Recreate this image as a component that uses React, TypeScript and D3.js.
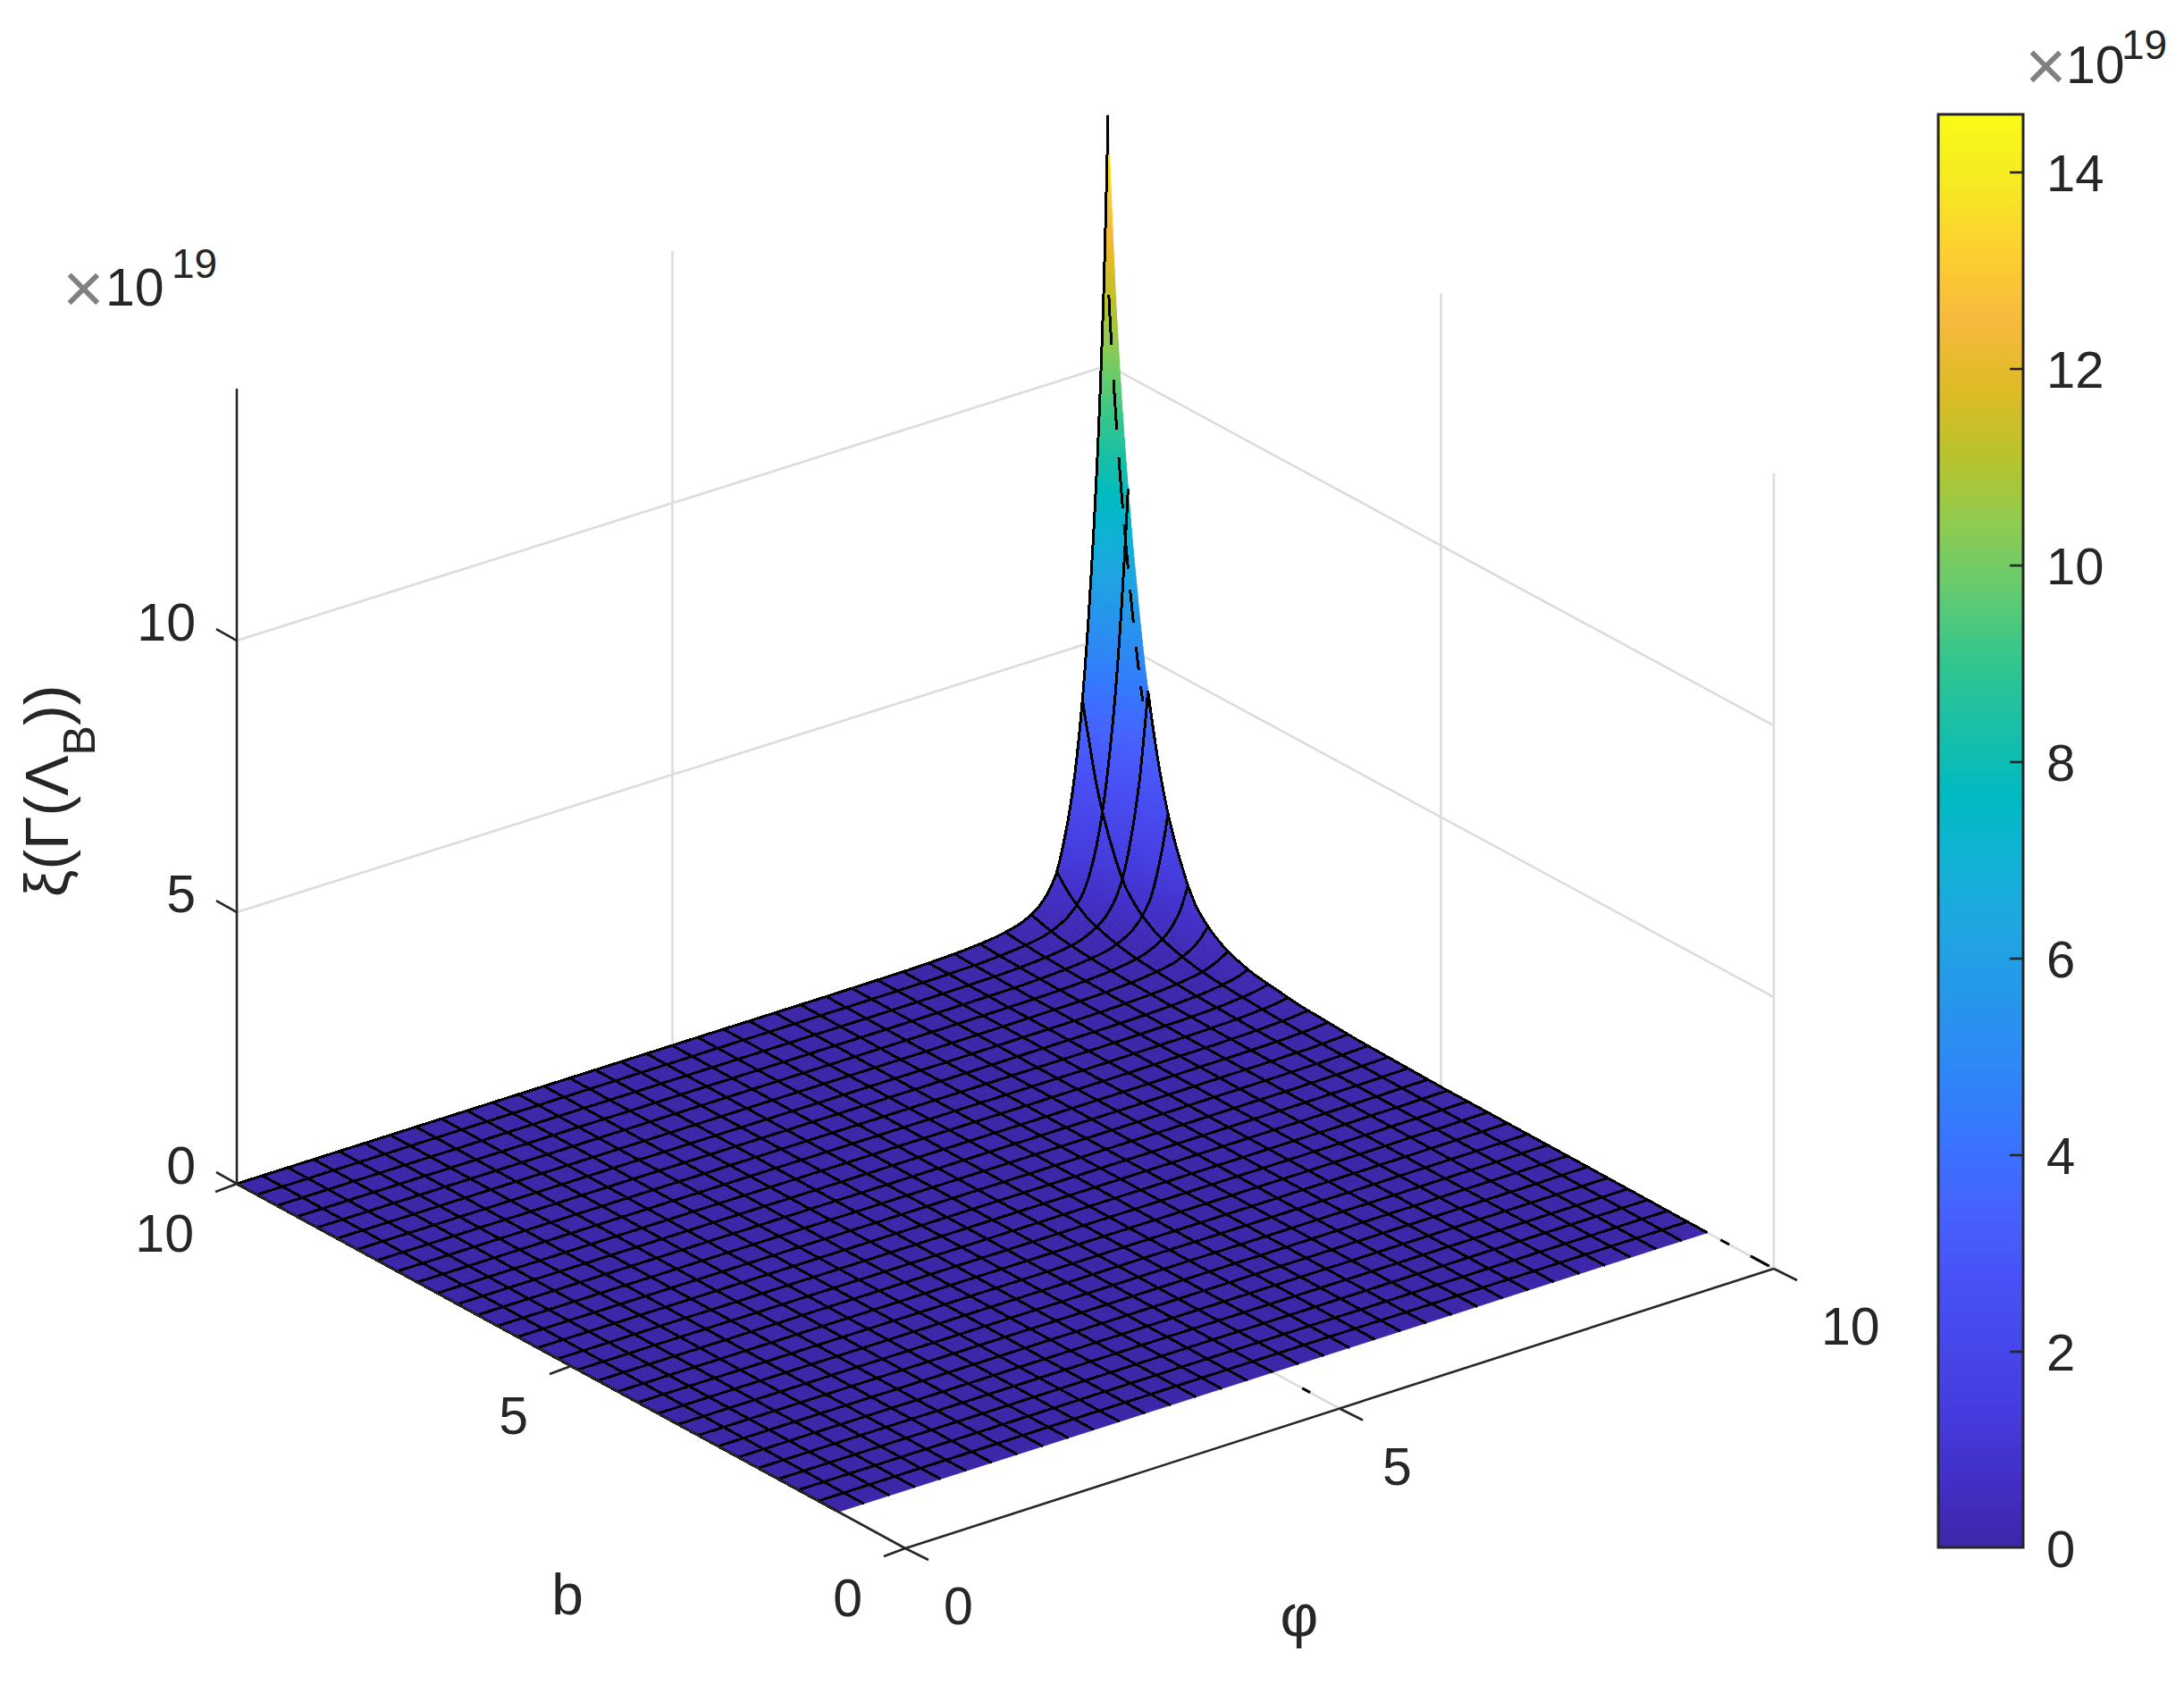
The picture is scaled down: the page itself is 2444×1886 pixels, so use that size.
import React from 'react';
import * as d3 from 'd3';

// surface heights (x 10^19), around the peak at phi = 10, b = 10
// rows: distance from phi = 10, columns: distance from b = 10
const phiKnots = [0, 0.05, 0.1, 0.15, 0.2, 0.3, 0.4, 0.5, 0.6, 0.7, 0.8, 0.9, 1, 1.3, 1.7, 2.3, 3.2, 10];
const bKnots = [0, 0.11, 0.22, 0.33, 0.44, 0.66, 0.88, 1.1, 1.32, 1.54, 1.76, 1.98, 2.2, 2.86, 3.74, 5.06, 7.04, 9];
const heights = [
  [14.6, 11.4, 9.2, 7.5, 6.1, 3.9, 2.45, 1.55, 0.92, 0.62, 0.43, 0.32, 0.24, 0.125, 0.065, 0.03, 0.02, 0],
  [11.4, 9.2, 7.5, 6.1, 4.9, 3.15, 1.95, 1.2, 0.76, 0.52, 0.37, 0.28, 0.21, 0.115, 0.06, 0.03, 0.02, 0],
  [9.2, 7.5, 6.1, 4.9, 3.9, 2.45, 1.55, 0.92, 0.62, 0.43, 0.32, 0.24, 0.18, 0.105, 0.055, 0.03, 0.02, 0],
  [7.5, 6.1, 4.9, 3.9, 3.15, 1.95, 1.2, 0.76, 0.52, 0.37, 0.28, 0.21, 0.165, 0.095, 0.05, 0.03, 0.02, 0],
  [6.1, 4.9, 3.9, 3.15, 2.45, 1.55, 0.92, 0.62, 0.43, 0.32, 0.24, 0.18, 0.15, 0.085, 0.05, 0.03, 0.02, 0],
  [3.9, 3.15, 2.45, 1.95, 1.55, 0.92, 0.62, 0.43, 0.32, 0.24, 0.18, 0.15, 0.125, 0.075, 0.04, 0.025, 0.015, 0],
  [2.45, 1.95, 1.55, 1.2, 0.92, 0.62, 0.43, 0.32, 0.24, 0.18, 0.15, 0.125, 0.105, 0.065, 0.035, 0.025, 0.015, 0],
  [1.55, 1.2, 0.92, 0.76, 0.62, 0.43, 0.32, 0.24, 0.18, 0.15, 0.125, 0.105, 0.085, 0.055, 0.03, 0.02, 0.015, 0],
  [0.92, 0.76, 0.62, 0.52, 0.43, 0.32, 0.24, 0.18, 0.15, 0.125, 0.105, 0.085, 0.075, 0.05, 0.03, 0.02, 0.01, 0],
  [0.62, 0.52, 0.43, 0.37, 0.32, 0.24, 0.18, 0.15, 0.125, 0.105, 0.085, 0.075, 0.065, 0.04, 0.03, 0.02, 0.01, 0],
  [0.43, 0.37, 0.32, 0.28, 0.24, 0.18, 0.15, 0.125, 0.105, 0.085, 0.075, 0.065, 0.055, 0.04, 0.025, 0.02, 0.01, 0],
  [0.32, 0.28, 0.24, 0.21, 0.18, 0.15, 0.125, 0.105, 0.085, 0.075, 0.065, 0.055, 0.05, 0.035, 0.025, 0.02, 0.01, 0],
  [0.24, 0.21, 0.18, 0.165, 0.15, 0.125, 0.105, 0.085, 0.075, 0.065, 0.055, 0.05, 0.04, 0.03, 0.02, 0.015, 0.01, 0],
  [0.125, 0.115, 0.105, 0.095, 0.085, 0.075, 0.065, 0.055, 0.05, 0.04, 0.04, 0.03, 0.03, 0.025, 0.02, 0.01, 0.01, 0],
  [0.065, 0.06, 0.055, 0.05, 0.05, 0.04, 0.035, 0.03, 0.03, 0.03, 0.025, 0.025, 0.02, 0.02, 0.015, 0.01, 0.005, 0],
  [0.03, 0.03, 0.03, 0.03, 0.03, 0.025, 0.025, 0.02, 0.02, 0.02, 0.02, 0.02, 0.015, 0.01, 0.01, 0.005, 0.005, 0],
  [0.02, 0.02, 0.02, 0.02, 0.02, 0.015, 0.015, 0.015, 0.01, 0.01, 0.01, 0.01, 0.01, 0.01, 0.005, 0.005, 0, 0],
  [0, 0, 0, 0, 0, 0, 0, 0, 0, 0, 0, 0, 0, 0, 0, 0, 0, 0],
];

const zMax = 14.64;
const colorbarMax = 14.6;
const phiTicks = [0, 5, 10];
const bTicks = [0, 5, 10];
const zTicks = [0, 5, 10];
const colorbarTicks = [0, 2, 4, 6, 8, 10, 12, 14];
const phiCells = 34;
const bCells = 30;
const bMin = 1;
// broken bits of the phi = 10 edge on the spike, in distance from b = 10
const edgeFragments = [[0.05, 0.09], [0.12, 0.17], [0.2, 0.26], [0.28, 0.34], [0.37, 0.42], [0.46, 0.5], [0.53, 0.56]];

// parula
const parula = [
  [62, 38, 168], [66, 47, 199], [69, 60, 222], [71, 71, 235], [71, 83, 247], [70, 99, 253], [56, 117, 255], [47, 135, 247],
  [39, 150, 235], [32, 165, 227], [18, 178, 214], [1, 186, 195], [25, 191, 167], [50, 198, 142], [99, 203, 113], [143, 203, 80],
  [185, 195, 43], [222, 187, 39], [248, 186, 61], [253, 208, 48], [246, 233, 35], [249, 251, 21],
];
const parulaDomain = d3.range(parula.length).map(i => (i / (parula.length - 1)) * colorbarMax);
const colorOf = d3.scaleLinear<string>()
  .domain(parulaDomain)
  .range(parula.map(c => `rgb(${c[0]},${c[1]},${c[2]})`))
  .interpolate(d3.interpolateRgb)
  .clamp(true);

// axes box corners on the page, at z = 0
const F = [1013, 1733];
const R = [1985, 1420];
const L = [265, 1325];
const B = [1240, 1017];
const boxHeight = 890;

const uScale = d3.scaleLinear().domain([0, 10]).range([0, 1]);
const zScale = d3.scaleLinear().domain([0, zMax]).range([0, boxHeight]);

function project(phi: number, b: number, z = 0): [number, number] {
  const u = uScale(phi);
  const v = uScale(b);
  const x = (1 - u) * (1 - v) * F[0] + u * (1 - v) * R[0] + (1 - u) * v * L[0] + u * v * B[0];
  const y = (1 - u) * (1 - v) * F[1] + u * (1 - v) * R[1] + (1 - u) * v * L[1] + u * v * B[1];
  return [x, y - zScale(z)];
}

const dIndex = d3.scaleLinear().domain(phiKnots).range(d3.range(phiKnots.length)).clamp(true);
const eIndex = d3.scaleLinear().domain(bKnots).range(d3.range(bKnots.length)).clamp(true);

// lookup in the height table, d = 10 - phi, e = 10 - b. Blended in log so the shading stays smooth
function heightAt(d: number, e: number) {
  const di = dIndex(d);
  const ei = eIndex(e);
  const i = Math.min(Math.floor(di), phiKnots.length - 2);
  const j = Math.min(Math.floor(ei), bKnots.length - 2);
  const s = di - i;
  const t = ei - j;
  const lg = (v: number) => Math.log(v + 0.004);
  const v = lg(heights[i][j]) * (1 - s) * (1 - t) + lg(heights[i + 1][j]) * s * (1 - t) + lg(heights[i][j + 1]) * (1 - s) * t + lg(heights[i + 1][j + 1]) * s * t;
  return Math.exp(v) - 0.004;
}

const pathOf = d3.line<[number, number]>().x(p => p[0]).y(p => p[1]);

function surfaceCells() {
  const cells: { d: string; fill: string }[] = [];
  for (let i = 0; i < phiKnots.length - 1; i++) {
    for (let j = 0; j < bKnots.length - 1; j++) {
      const vals = [heights[i][j], heights[i + 1][j], heights[i][j + 1], heights[i + 1][j + 1]];
      const span = d3.max(vals)! - d3.min(vals)!;
      const n = Math.min(20, Math.ceil(span * 6) + 1);
      for (let a = 0; a < n; a++) {
        for (let c = 0; c < n; c++) {
          const d0 = phiKnots[i] + ((phiKnots[i + 1] - phiKnots[i]) * a) / n;
          const d1 = phiKnots[i] + ((phiKnots[i + 1] - phiKnots[i]) * (a + 1)) / n;
          const e0 = bKnots[j] + ((bKnots[j + 1] - bKnots[j]) * c) / n;
          const e1 = bKnots[j] + ((bKnots[j + 1] - bKnots[j]) * (c + 1)) / n;
          const corners: [number, number][] = [[d0, e0], [d1, e0], [d1, e1], [d0, e1]];
          const pts = corners.map(q => project(10 - q[0], 10 - q[1], heightAt(q[0], q[1])));
          cells.push({
            d: pathOf(pts)! + 'Z',
            fill: colorOf(heightAt((d0 + d1) / 2, (e0 + e1) / 2)),
          });
        }
      }
    }
  }
  return cells;
}

// fine steps along a mesh line
function fineSteps(knots: number[]) {
  const out: number[] = [];
  for (let i = 0; i < knots.length - 1; i++) {
    const n = knots[i] < 2 ? 8 : 1;
    for (let k = 0; k < n; k++) out.push(knots[i] + ((knots[i + 1] - knots[i]) * k) / n);
  }
  out.push(knots[knots.length - 1]);
  return out;
}

function meshLines() {
  const lines: string[] = [];
  const eSteps = fineSteps(bKnots);
  const dSteps = fineSteps(phiKnots);
  // lines of constant phi
  d3.range(1, phiCells + 1).forEach(k => {
    const d = (k * 10) / phiCells;
    lines.push(pathOf(eSteps.map(e => project(10 - d, 10 - e, heightAt(d, e))))!);
  });
  // lines of constant b, the front one (b = 1) has no visible edge
  d3.range(0, bCells).forEach(k => {
    const e = (k * (10 - bMin)) / bCells;
    lines.push(pathOf(dSteps.map(d => project(10 - d, 10 - e, heightAt(d, e))))!);
  });
  // phi = 10 edge is solid from the foot of the peak down, broken above
  lines.push(pathOf(eSteps.filter(e => e >= 0.6).map(e => project(10, 10 - e, heightAt(0, e))))!);
  edgeFragments.forEach(([e0, e1]) => {
    const part = d3.range(0, 7).map(i => e0 + ((e1 - e0) * i) / 6);
    lines.push(pathOf(part.map(e => project(9.97, 10 - e, heightAt(0.03, e))))!);
  });
  return lines;
}

const TEXT = '#262626';
const GRID = '#dcdcdc';
const AXIS = '#262626';
const FONT = '"Liberation Sans", Arial, sans-serif';

function seg(a: number[], b: number[], color: string, w = 2.6) {
  return <line x1={a[0]} y1={a[1]} x2={b[0]} y2={b[1]} stroke={color} strokeWidth={w} />;
}

export default function App() {
  const cells = surfaceCells();
  const mesh = meshLines();
  const cbY = d3.scaleLinear().domain([0, colorbarMax]).range([1733, 127]);
  const fs = 59;

  return (
    <svg width={2444} height={1886} viewBox="0 0 2444 1886" style={{ position: 'absolute', left: 0, top: 0, background: '#fff' }} fontFamily={FONT}>
      <defs>
        <linearGradient id="cb" x1="0" y1="1" x2="0" y2="0">
          {parula.map((c, i) => (
            <stop key={i} offset={i / (parula.length - 1)} stopColor={`rgb(${c[0]},${c[1]},${c[2]})`} />
          ))}
        </linearGradient>
      </defs>

      {/* walls */}
      {zTicks.filter(z => z > 0).map(z => (
        <g key={z}>
          {seg(project(0, 10, z), project(10, 10, z), GRID)}
          {seg(project(10, 10, z), project(10, 0, z), GRID)}
        </g>
      ))}
      {seg(project(5, 10, 0), project(5, 10, zMax), GRID)}
      {seg(project(10, 5, 0), project(10, 5, zMax), GRID)}
      {seg(project(10, 0, 0), project(10, 0, zMax), GRID)}
      {seg(project(10, 10, 0), project(10, 10, zMax), GRID)}

      {/* floor lines left open in front of the surface */}
      {seg(project(5, 0, 0), project(5, bMin, 0), GRID)}
      {seg(project(10, 0, 0), project(10, bMin, 0), GRID)}
      {seg(project(5, 0.44, 0), project(5, 0.56, 0), '#000', 3)}
      {seg(project(10, 0.07, 0), project(10, 0.35, 0), '#000', 3)}
      {seg(project(10, 0.67, 0), project(10, 0.8, 0), '#000', 3)}

      {/* surface */}
      <g>
        {cells.map((c, i) => (
          <path key={i} d={c.d} fill={c.fill} stroke={c.fill} strokeWidth={0.8} />
        ))}
      </g>
      <g fill="none" stroke="#000" strokeWidth={3} shapeRendering="crispEdges">
        {mesh.map((d, i) => <path key={i} d={d} />)}
      </g>

      {/* axes */}
      {seg(project(0, 10, 0), project(0, 10, zMax), AXIS)}
      {seg(project(0, 10, 0), project(0, 0, 0), AXIS)}
      {seg(project(0, 0, 0), project(10, 0, 0), AXIS)}

      {zTicks.map(z => {
        const p = project(0, 10, z);
        return <g key={z}>{seg(p, [p[0] - 23, p[1] - 13], AXIS)}</g>;
      })}
      {bTicks.map(b => {
        const p = project(0, b, 0);
        return <g key={b}>{seg(p, [p[0] - 24, p[1] + 9], AXIS)}</g>;
      })}
      {phiTicks.map(v => {
        const p = project(v, 0, 0);
        return <g key={v}>{seg(p, [p[0] + 26, p[1] + 13], AXIS)}</g>;
      })}

      {/* tick labels */}
      <g fill={TEXT} fontSize={fs} dominantBaseline="central">
        {zTicks.map(z => (
          <text key={z} x={219} y={project(0, 10, z)[1] - 20} textAnchor="end">{z}</text>
        ))}
        {bTicks.map(b => {
          const p = project(0, b, 0);
          return <text key={b} x={p[0] - 48} y={p[1] + 56} textAnchor="end">{b}</text>;
        })}
        {phiTicks.map(v => {
          const p = project(v, 0, 0);
          return <text key={v} x={p[0] + 43 + v} y={p[1] + 65} textAnchor="start">{v}</text>;
        })}
      </g>

      {/* axis labels */}
      <g fill={TEXT}>
        <text x={635} y={1807} fontSize={64} textAnchor="middle">b</text>
        <text x={1454} y={1831} fontSize={66} textAnchor="middle">φ</text>
        <text transform="translate(76,1004) rotate(-90)" fontSize={68}>
          ξ(Γ(Λ<tspan fontSize={50} dy={30}>B</tspan><tspan dy={-30}>))</tspan>
        </text>
        {/* exponent */}
        <text x={70} y={350} fontSize={80} fill="#808080">×</text>
        <text x={118} y={342} fontSize={fs}>10</text>
        <text x={192} y={311} fontSize={46}>19</text>
      </g>

      {/* colorbar */}
      <rect x={2169} y={128} width={95} height={1604} fill="url(#cb)" stroke={AXIS} strokeWidth={3} />
      {colorbarTicks.map(t => (
        <g key={t}>
          {t > 0 && seg([2249, cbY(t)], [2264, cbY(t)], AXIS, 2.6)}
          <text x={2290} y={cbY(t) + 21} fontSize={58} fill={TEXT}>{t}</text>
        </g>
      ))}
      <g fill={TEXT}>
        <text x={2266} y={101} fontSize={80} fill="#808080">×</text>
        <text x={2312} y={93} fontSize={fs}>10</text>
        <text x={2374} y={66} fontSize={46}>19</text>
      </g>
    </svg>
  );
}
